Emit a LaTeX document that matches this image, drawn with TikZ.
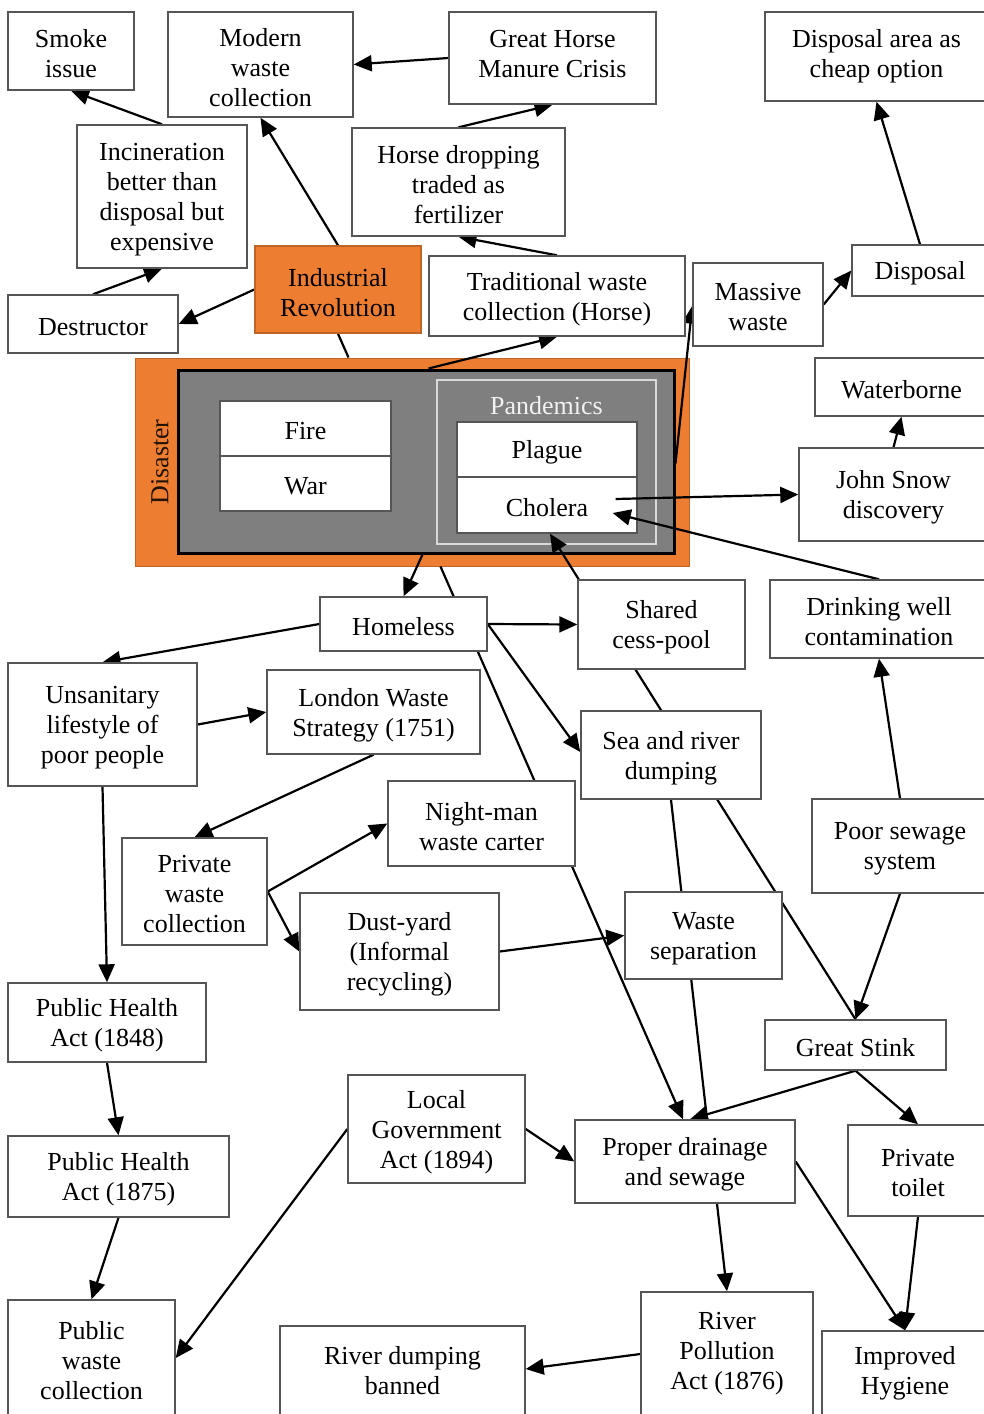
\documentclass[tikz,border=0pt]{standalone}
\usepackage{fontspec}
\setmainfont{Liberation Serif}
\usetikzlibrary{arrows.meta,calc}
\pgfdeclarelayer{bg}
\pgfdeclarelayer{edges}
\pgfsetlayers{bg,edges,main}
\definecolor{orng}{HTML}{ED7D31}
\definecolor{dgray}{HTML}{7F7F7F}
\definecolor{bord}{HTML}{555555}
\newcommand\toff{3}
\newcommand\bx[7][]{\node[box,#1,minimum width={(#5)-(#3)},minimum height={(#6)-(#4)}] (#2) at ({((#3)+(#5))/2},{((#4)+(#6))/2}) {};
  \node[txt] (#2t) at ($(#2.center)+(0,\toff)$) {#7};}
\begin{document}
\begin{tikzpicture}[x=1pt,y=-1pt,
  box/.style={draw=bord,line width=1.4pt,fill=white,inner sep=0pt},
  txt/.style={align=center,inner sep=0pt,font=\fontsize{26}{30}\selectfont},
  arr/.style={-{Triangle[length=18pt,width=16pt]},line width=2.2pt},
  ln/.style={line width=2.2pt}]
\useasboundingbox (0,0) rectangle (984,1414);
\clip (0,0) rectangle (984,1414);
% Disaster group
\begin{pgfonlayer}{bg}
\fill[white] (0,0) rectangle (984,1414);
\bx[fill=orng,draw=orng!80!black,line width=1pt]{disaster}{135}{358}{689}{566}{}
\bx[fill=dgray,draw=black,line width=3pt]{inner}{178}{370}{674}{553}{}
\bx[fill=none,draw=white!85!black,line width=1.5pt]{pand}{437}{380}{656}{544}{}
\node[txt,text=white!95!black] (pandlbl) at ($(pand.north)+(0,26)$) {Pandemics};
\bx{fire}{220}{401}{391}{456}{Fire}
\bx{war}{220}{456}{391}{511}{War}
\bx{plague}{457}{422}{637}{477}{Plague}
\bx{cholera}{457}{477}{637}{533}{Cholera}
\node[txt,rotate=90,text=black!85!orng] (dislbl) at (160,462) {Disaster};
\end{pgfonlayer}
% Boxes
\bx{smoke}{8}{12}{134}{90}{Smoke\\issue}
\bx{modern}{168}{12}{353}{117}{Modern\\waste\\collection}
\renewcommand\toff{-4}
\bx{ghm}{449}{12}{656}{104}{Great Horse\\Manure Crisis}
\renewcommand\toff{0}
\bx{disparea}{765}{12}{988}{101}{Disposal area as\\cheap option}
\renewcommand\toff{3}
\bx{inc}{77}{125}{247}{268}{Incineration\\better than\\disposal but\\expensive}
\bx{hdrop}{352}{128}{565}{236}{Horse dropping\\traded as\\fertilizer}
\bx[fill=orng,draw=orng!80!black]{indrev}{255}{246}{421}{333}{Industrial\\Revolution}
\bx{trad}{429}{256}{685}{336}{Traditional waste\\collection (Horse)}
\bx{massive}{693}{263}{823}{346}{Massive\\waste}
\bx{disposal}{852}{245}{988}{296}{Disposal}
\bx{destr}{8}{295}{178}{353}{Destructor}
\bx{waterborne}{815}{358}{988}{416}{Waterborne}
\bx{jsnow}{799}{448}{988}{541}{John Snow\\discovery}
\bx{homeless}{320}{597}{487}{651}{Homeless}
\bx{cess}{578}{580}{745}{669}{Shared\\cess-pool}
\bx{drink}{770}{580}{988}{658}{Drinking well\\contamination}
\bx{unsan}{8}{663}{197}{786}{Unsanitary\\lifestyle of\\poor people}
\bx{london}{267}{670}{480}{754}{London Waste\\Strategy (1751)}
\bx{sea}{581}{711}{761}{799}{Sea and river\\dumping}
\bx{night}{388}{781}{575}{866}{Night-man\\waste carter}
\bx{poor}{812}{799}{988}{893}{Poor sewage\\system}
\bx{privw}{122}{838}{267}{945}{Private\\waste\\collection}
\bx{dust}{300}{893}{499}{1010}{Dust-yard\\(Informal\\recycling)}
\bx{wsep}{625}{892}{782}{979}{Waste\\separation}
\bx{pha48}{8}{983}{206}{1062}{Public Health\\Act (1848)}
\bx{stink}{765}{1020}{946}{1070}{Great Stink}
\bx{lga}{348}{1075}{525}{1183}{Local\\Government\\Act (1894)}
\bx{drain}{575}{1120}{795}{1203}{Proper drainage\\and sewage}
\bx{ptoilet}{848}{1125}{988}{1216}{Private\\toilet}
\bx{pha75}{8}{1136}{229}{1217}{Public Health\\Act (1875)}
\bx{pubw}{8}{1300}{175}{1416}{Public\\waste\\collection}
\renewcommand\toff{0}
\bx{rdb}{280}{1326}{525}{1416}{River dumping\\banned}
\bx{rpa}{641}{1292}{813}{1416}{River\\Pollution\\Act (1876)}
\bx{hyg}{822}{1331}{988}{1416}{Improved\\Hygiene}
% Connectors
\begin{pgfonlayer}{edges}
\draw[arr] (inc.north) -- (smoke.south);
\draw[arr] (destr.north) -- (inc.south);
\draw[arr] (indrev.west) -- (destr.east);
\draw[arr] (indrev.north) -- (modern.south);
\draw[arr] (ghm.west) -- (modern.east);
\draw[arr] (hdrop.north) -- (ghm.south);
\draw[arr] (trad.north) -- (hdrop.south);
\draw[arr] ($(inner.north west)+(252,0)$) -- (trad.south);
\draw[ln] (indrev.south) -- ($(disaster.north west)+(214,0)$);
\draw[arr] ($(inner.north east)+(0,95)$) -- ($(massive.south west)+(0,-41)$);
\draw[arr] ($(cholera.east)+(-22,-6)$) -- (jsnow.west);
\draw[arr] (jsnow.north) -- (waterborne.south);
\draw[arr] (drink.north) -- ($(cholera.east)+(-25,8)$);
\draw[arr] (stink.north) -- ($(cholera.south)+(3,0)$);
\draw[arr] ($(inner.south west)+(246,0)$) -- (homeless.north);
\draw[arr] ($(disaster.south west)+(306,0)$) -- ($(drain.north)+(-2,0)$);
\draw[arr] (homeless.west) -- (unsan.north);
\draw[arr] (homeless.east) -- (cess.west);
\draw[arr] (homeless.east) -- ($(sea.west)+(0,-3)$);
\draw[arr] (unsan.east) -- (london.west);
\draw[arr] (london.south) -- (privw.north);
\draw[arr] (privw.east) -- (night.west);
\draw[arr] (privw.east) -- (dust.west);
\draw[arr] (dust.east) -- (wsep.west);
\draw[arr] (unsan.south) -- (pha48.north);
\draw[arr] (pha48.south) -- (pha75.north);
\draw[arr] (pha75.south) -- (pubw.north);
\draw[arr] (lga.west) -- (pubw.east);
\draw[arr] (lga.east) -- (drain.west);
\draw[arr] (poor.north) -- (drink.south);
\draw[arr] (poor.south) -- (stink.north);
\draw[arr] (stink.south) -- ($(drain.north)+(5,0)$);
\draw[arr] (stink.south) -- (ptoilet.north);
\draw[arr] ($(drain.south)+(32,0)$) -- (rpa.north);
\draw[arr] (drain.east) -- (hyg.north);
\draw[arr] (ptoilet.south) -- (hyg.north);
\draw[arr] (rpa.west) -- ($(rdb.east)+(0,-2)$);
\draw[arr] (disposal.north) -- (disparea.south);
\draw[arr] (massive.east) -- (disposal.west);
\draw[ln] (sea.south) -- ($(drain.north)+(22,0)$);
\end{pgfonlayer}
\end{tikzpicture}
\end{document}
